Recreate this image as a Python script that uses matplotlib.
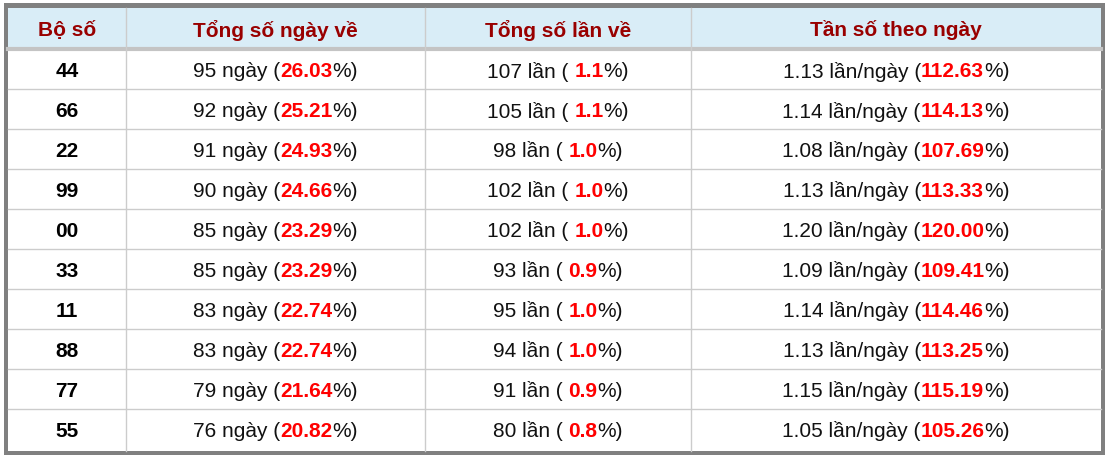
import matplotlib.pyplot as plt
from matplotlib.patches import Rectangle

plt.rcParams['font.family'] = ['Liberation Sans', 'DejaVu Sans']

headers = ["Bộ số", "Tổng số ngày về", "Tổng số lần về", "Tần số theo ngày"]
bo_so = ["44", "66", "22", "99", "00", "33", "11", "88", "77", "55"]
so_ngay = [95, 92, 91, 90, 85, 85, 83, 83, 79, 76]
pct_ngay = ["26.03", "25.21", "24.93", "24.66", "23.29", "23.29", "22.74", "22.74", "21.64", "20.82"]
so_lan = [107, 105, 98, 102, 102, 93, 95, 94, 91, 80]
pct_lan = ["1.1", "1.1", "1.0", "1.0", "1.0", "0.9", "1.0", "1.0", "0.9", "0.8"]
tan_so = ["1.13", "1.14", "1.08", "1.13", "1.20", "1.09", "1.14", "1.13", "1.15", "1.05"]
pct_tan_so = ["112.63", "114.13", "107.69", "113.33", "120.00", "109.41", "114.46", "113.25", "115.19", "105.26"]

W, H = 1109, 460
fig = plt.figure(figsize=(W / 100, H / 100), dpi=100)
ax = fig.add_axes([0, 0, 1, 1])
ax.set_xlim(0, W)
ax.set_ylim(H, 0)
ax.axis("off")

col_x = [8, 126, 425, 691, 1101]
top, head_bot, row_h = 9, 50, 40
line_c = "#cccccc"

# outer frame and header
ax.add_patch(Rectangle((4, 4), 1101, 452, facecolor="#808080", edgecolor="none"))
ax.add_patch(Rectangle((8, top), 1093, 443, facecolor="white", edgecolor="none"))
ax.add_patch(Rectangle((8, top), 1093, head_bot - top, facecolor="#d9edf7", edgecolor="none"))
ax.plot([8, 1101], [head_bot, head_bot], color="#c4c4c4", lw=3)
for i in range(1, 10):
    y = head_bot + i * row_h
    ax.plot([8, 1101], [y, y], color=line_c, lw=1)
for x in col_x[1:-1]:
    ax.plot([x, x], [top, 452], color=line_c, lw=1)

fs = 15
for j, h in enumerate(headers):
    ax.text((col_x[j] + col_x[j + 1]) / 2, (top + head_bot) / 2 + 1, h, ha="center", va="center",
            fontsize=fs, fontweight="bold", color="#990000")

renderer = fig.canvas.get_renderer()


def mixed(cx, cy, parts):
    # parts: list of (text, color, bold); laid out left to right, centred on cx
    texts = []
    for s, c, b in parts:
        t = ax.text(0, cy, s, ha="left", va="center", fontsize=fs, color=c,
                    fontweight="bold" if b else "normal")
        texts.append(t)
    widths = [t.get_window_extent(renderer).width for t in texts]
    x = cx - sum(widths) / 2
    for t, w in zip(texts, widths):
        t.set_x(x)
        x += w


red = "#ff0000"
for i in range(10):
    cy = head_bot + i * row_h + row_h / 2 + 1.5
    ax.text((col_x[0] + col_x[1]) / 2, cy, bo_so[i], ha="center", va="center",
            fontsize=fs, fontweight="bold", color="black")
    mixed((col_x[1] + col_x[2]) / 2, cy,
          [(f"{so_ngay[i]} ngày (", "#111111", False), (pct_ngay[i], red, True), ("%)", "#111111", False)])
    mixed((col_x[2] + col_x[3]) / 2, cy,
          [(f"{so_lan[i]} lần ( ", "#111111", False), (pct_lan[i], red, True), ("%)", "#111111", False)])
    mixed((col_x[3] + col_x[4]) / 2, cy,
          [(f"{tan_so[i]} lần/ngày (", "#111111", False), (pct_tan_so[i], red, True), ("%)", "#111111", False)])

fig.savefig("out.png", dpi=100)
